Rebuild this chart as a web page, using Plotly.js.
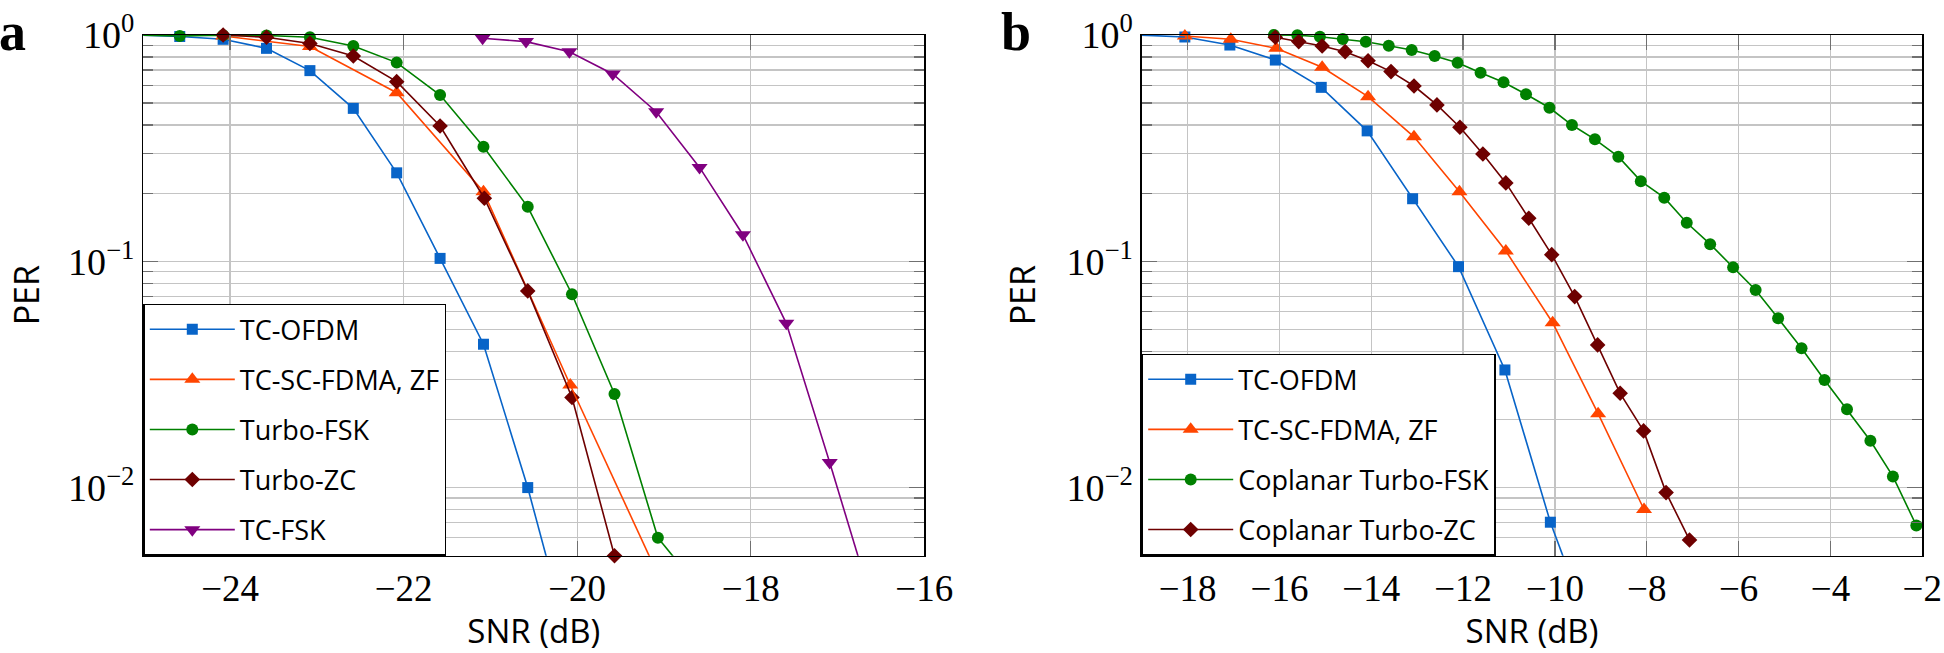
<!DOCTYPE html>
<html>
<head>
<meta charset="utf-8">
<script src="https://cdn.plot.ly/plotly-3.0.1.min.js"></script>
<style>html,body{margin:0;padding:0;background:#fff;}#chart{width:1944px;height:653px;}</style>
</head>
<body>
<div id="chart"></div>
<script>
// ---------- Panel a data ----------
const aOfdmX = [-24.58, -24.08, -23.58, -23.08, -22.58, -22.08, -21.58, -21.08, -20.57];
const aOfdmY = [0.985, 0.957, 0.873, 0.696, 0.474, 0.246, 0.103, 0.043, 0.0100];
const aOfdmHead = [-25.08, 1.0];
const aOfdmTail = [-20.08, 0.002];

const aScX = [-24.08, -23.08, -22.08, -21.08, -20.08];
const aScY = [0.99, 0.89, 0.556, 0.203, 0.0284];
const aScTail = [-19.08, 0.0042];

const aFskX = [-24.58, -24.08, -23.58, -23.08, -22.58, -22.08, -21.58, -21.08, -20.57, -20.06, -19.57, -19.07];
const aFskY = [0.99, 0.998, 0.995, 0.977, 0.894, 0.755, 0.543, 0.321, 0.174, 0.0715, 0.0259, 0.0060];
const aFskHead = [-25.08, 1.0];
const aFskTail = [-18.57, 0.0035];

const aZcX = [-24.08, -23.58, -23.08, -22.58, -22.08, -21.58, -21.07, -20.57, -20.06, -19.57];
const aZcY = [1.0, 0.977, 0.918, 0.808, 0.622, 0.396, 0.190, 0.074, 0.025, 0.005];

const aTcFskX = [-21.09, -20.59, -20.09, -19.59, -19.09, -18.59, -18.09, -17.59, -17.09];
const aTcFskY = [0.967, 0.935, 0.844, 0.673, 0.458, 0.260, 0.131, 0.0532, 0.0129];
const aTcFskTail = [-16.59, 0.003];

// ---------- Panel b data ----------
const bOfdmX = [-18.06, -17.08, -16.09, -15.09, -14.09, -13.10, -12.10, -11.09, -10.10];
const bOfdmY = [0.98, 0.903, 0.775, 0.587, 0.377, 0.189, 0.0947, 0.0331, 0.00703];
const bOfdmHead = [-19.06, 1.0];
const bOfdmTail = [-9.10, 0.002];

const bScX = [-18.06, -17.06, -16.07, -15.07, -14.07, -13.07, -12.08, -11.07, -10.05, -9.06, -8.06];
const bScY = [0.99, 0.957, 0.873, 0.720, 0.534, 0.355, 0.203, 0.111, 0.0535, 0.0212, 0.0080];

const bFskX = [-16.12, -15.61, -15.12, -14.62, -14.12, -13.62, -13.12, -12.62, -12.12, -11.62, -11.12, -10.63, -10.12, -9.63, -9.13, -8.62, -8.13, -7.62, -7.13, -6.62, -6.12, -5.63, -5.14, -4.63, -4.13, -3.64, -3.13, -2.64, -2.13];
const bFskY = [1.0, 0.997, 0.983, 0.96, 0.934, 0.897, 0.858, 0.808, 0.754, 0.681, 0.618, 0.547, 0.477, 0.400, 0.346, 0.290, 0.226, 0.191, 0.148, 0.119, 0.094, 0.0747, 0.056, 0.0413, 0.0299, 0.0222, 0.0161, 0.0112, 0.0068];

const bZcX = [-16.09, -15.58, -15.07, -14.57, -14.07, -13.57, -13.07, -12.57, -12.07, -11.57, -11.07, -10.57, -10.07, -9.57, -9.07, -8.58, -8.07, -7.58, -7.07];
const bZcY = [0.977, 0.935, 0.894, 0.844, 0.770, 0.689, 0.595, 0.491, 0.391, 0.298, 0.222, 0.155, 0.107, 0.0698, 0.0427, 0.0261, 0.0178, 0.0095, 0.00587];

// ---------- Labels ----------
const namesA = ['TC-OFDM', 'TC-SC-FDMA, ZF', 'Turbo-FSK', 'Turbo-ZC', 'TC-FSK'];
const namesB = ['TC-OFDM', 'TC-SC-FDMA, ZF', 'Coplanar Turbo-FSK', 'Coplanar Turbo-ZC'];
const yTickVals = [1, 0.1, 0.01];
const yTickText = ['10<sup>0</sup>', '10<sup>\u22121</sup>', '10<sup>\u22122</sup>'];
const xTitle = 'SNR (dB)';
const yTitle = 'PER';
const panelLabels = ['a', 'b'];

// ---------- Styles ----------
const C = {blue:'#0864C8', orange:'#FF4500', green:'#008000', dred:'#6E0000', purple:'#800080'};
const SANS = 'Open Sans, sans-serif';
const SERIF = 'Liberation Serif, DejaVu Serif, serif';

function series(x, y, name, color, symbol, size, xa, ya, legend, grp) {
  return {x:x, y:y, name:name, type:'scatter', mode:'lines+markers', xaxis:xa, yaxis:ya,
    legend:legend, legendgroup:grp, cliponaxis:false,
    line:{color:color, width:1.6}, marker:{color:color, symbol:symbol, size:size}};
}
function seg(p0x, p0y, p1x, p1y, color, xa, ya) {
  return {x:[p0x, p1x], y:[p0y, p1y], type:'scatter', mode:'lines', xaxis:xa, yaxis:ya,
    showlegend:false, hoverinfo:'skip', line:{color:color, width:1.6}};
}
const last = a => a[a.length-1];

const traces = [
  series(aOfdmX, aOfdmY, namesA[0], C.blue, 'square', 11, 'x', 'y', 'legend', 'a1'),
  series(aScX, aScY, namesA[1], C.orange, 'triangle-up', 14, 'x', 'y', 'legend', 'a2'),
  series(aFskX, aFskY, namesA[2], C.green, 'circle', 12, 'x', 'y', 'legend', 'a3'),
  series(aZcX, aZcY, namesA[3], C.dred, 'diamond', 12, 'x', 'y', 'legend', 'a4'),
  series(aTcFskX, aTcFskY, namesA[4], C.purple, 'triangle-down', 14, 'x', 'y', 'legend', 'a5'),
  seg(aOfdmHead[0], aOfdmHead[1], aOfdmX[0], aOfdmY[0], C.blue, 'x', 'y'),
  seg(last(aOfdmX), last(aOfdmY), aOfdmTail[0], aOfdmTail[1], C.blue, 'x', 'y'),
  seg(last(aScX), last(aScY), aScTail[0], aScTail[1], C.orange, 'x', 'y'),
  seg(aFskHead[0], aFskHead[1], aFskX[0], aFskY[0], C.green, 'x', 'y'),
  seg(last(aFskX), last(aFskY), aFskTail[0], aFskTail[1], C.green, 'x', 'y'),
  seg(last(aTcFskX), last(aTcFskY), aTcFskTail[0], aTcFskTail[1], C.purple, 'x', 'y'),

  series(bOfdmX, bOfdmY, namesB[0], C.blue, 'square', 11, 'x2', 'y2', 'legend2', 'b1'),
  series(bScX, bScY, namesB[1], C.orange, 'triangle-up', 14, 'x2', 'y2', 'legend2', 'b2'),
  series(bFskX, bFskY, namesB[2], C.green, 'circle', 12, 'x2', 'y2', 'legend2', 'b3'),
  series(bZcX, bZcY, namesB[3], C.dred, 'diamond', 12, 'x2', 'y2', 'legend2', 'b4'),
  seg(bOfdmHead[0], bOfdmHead[1], bOfdmX[0], bOfdmY[0], C.blue, 'x2', 'y2'),
  seg(last(bOfdmX), last(bOfdmY), bOfdmTail[0], bOfdmTail[1], C.blue, 'x2', 'y2')
];

// minor tick values for the log axis (2..9 in each decade)
const minorVals = [];
[0.001, 0.01, 0.1].forEach(d => { for (let k = 2; k <= 9; k++) minorVals.push(k*d); });

const W = 1944, H = 653;
const yDom = [1 - 555.7/H, 1 - 35/H];
function xAxis(domain, range, anchor) {
  return {domain:domain, range:range, anchor:anchor, dtick:2, tick0:0,
    showline:true, linecolor:'#000', linewidth:1.3, mirror:'allticks',
    ticks:'inside', ticklen:15, tickwidth:1.3, tickcolor:'#707070',
    showgrid:true, gridcolor:'#C4C4C4', gridwidth:1.3, zeroline:false,
    tickfont:{family:SERIF, size:37, color:'#000'},
    title:{text:xTitle, font:{family:SANS, size:33, color:'#000'}, standoff:16}};
}
function yAxis(domain, anchor) {
  return {domain:domain, type:'log', range:[Math.log10(0.005), 0], anchor:anchor,
    tickmode:'array', tickvals:yTickVals, ticktext:yTickText,
    showline:true, linecolor:'#000', linewidth:1.3, mirror:'allticks',
    ticks:'inside', ticklen:15, tickwidth:1.3, tickcolor:'#707070',
    showgrid:true, gridcolor:'#C4C4C4', gridwidth:1.3, zeroline:false,
    minor:{tickmode:'array', tickvals:minorVals, ticks:'inside', ticklen:10, tickwidth:1.3,
      tickcolor:'#707070', showgrid:true, gridcolor:'#C4C4C4', gridwidth:1.3},
    tickfont:{family:SERIF, size:38, color:'#000'}};
}
function legendCfg(x, y) {
  return {x:x, y:y, xanchor:'left', yanchor:'bottom', bgcolor:'#fff', bordercolor:'#000', borderwidth:1.5,
    font:{family:SANS, size:27, color:'#000'}, itemwidth:85, traceorder:'grouped', tracegroupgap:12};
}
function yTitleAnn(xpx) {
  return {text:yTitle, xref:'paper', yref:'paper', x:xpx/W, y:(yDom[0]+yDom[1])/2,
    xanchor:'center', yanchor:'middle', textangle:-90, showarrow:false,
    font:{family:SANS, size:34, color:'#000'}};
}
function panelAnn(label, xpx) {
  return {text:'<b>' + label + '</b>', xref:'paper', yref:'paper', x:xpx/W, y:1, xanchor:'left', yanchor:'top',
    showarrow:false, font:{family:SERIF, size:54, color:'#000'}, xshift:-3, yshift:0};
}

const layout = {
  width:W, height:H, margin:{l:0, r:0, t:0, b:0}, paper_bgcolor:'#fff', plot_bgcolor:'#fff',
  showlegend:true,
  xaxis: xAxis([143.3/W, 924.3/W], [-25, -16], 'y'),
  yaxis: yAxis(yDom, 'x'),
  xaxis2: xAxis([1141.7/W, 1922.3/W], [-19, -2], 'y2'),
  yaxis2: yAxis(yDom, 'x2'),
  legend: legendCfg(143.3/W, 1 - 555.7/H),
  legend2: legendCfg(1141.7/W, 1 - 555.7/H),
  annotations:[ panelAnn(panelLabels[0], 0), panelAnn(panelLabels[1], 1002), yTitleAnn(26), yTitleAnn(1022) ]
};

Plotly.newPlot('chart', traces, layout, {staticPlot:true, displayModeBar:false});
</script>
</body>
</html>
